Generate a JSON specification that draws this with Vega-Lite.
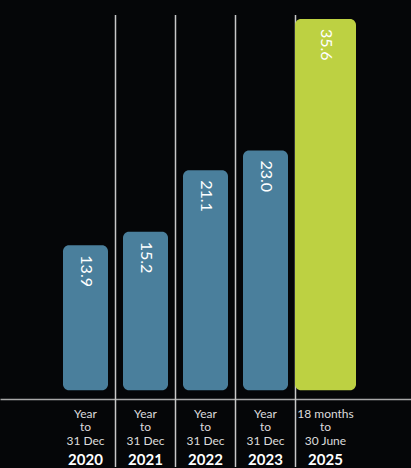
{
  "$schema": "https://vega.github.io/schema/vega-lite/v6.json",
  "width": 411,
  "height": 468,
  "autosize": {"type": "fit", "contains": "padding"},
  "padding": {"top": 14, "left": 0, "right": 0, "bottom": 0},
  "background": "#050608",
  "config": {"view": {"stroke": null}, "font": "Lato"},
  "data": {
    "values": [
      {"year": "2020", "value": 13.9, "label": "13.9", "kind": "year"},
      {"year": "2021", "value": 15.2, "label": "15.2", "kind": "year"},
      {"year": "2022", "value": 21.1, "label": "21.1", "kind": "year"},
      {"year": "2023", "value": 23.0, "label": "23.0", "kind": "year"},
      {"year": "2025", "value": 35.6, "label": "35.6", "kind": "long"}
    ]
  },
  "resolve": {"axis": {"x": "independent"}},
  "layer": [
    {
      "transform": [{"filter": "datum.year !== '2020'"}],
      "mark": {"type": "rule", "color": "#c8c8c8", "strokeWidth": 1.5},
      "encoding": {
        "x": {"field": "year", "type": "nominal", "bandPosition": 0, "axis": null}
      }
    },
    {
      "mark": {"type": "bar", "cornerRadius": 6},
      "encoding": {
        "x": {
          "field": "year",
          "type": "nominal",
          "scale": {"paddingInner": 0, "paddingOuter": 0.925},
          "axis": {
            "orient": "bottom",
            "offset": -68,
            "title": null,
            "grid": false,
            "ticks": false,
            "domain": true,
            "domainColor": "#a8a8a8",
            "domainWidth": 1.5,
            "labelAngle": 0,
            "labelPadding": 9,
            "labelFontSize": 12,
            "labelColor": "#dcdcdc",
            "labelLineHeight": 13.7,
            "labelBaseline": "top",
            "labelOverlap": false,
            "labelFlush": false,
            "labelExpr": "datum.value === '2025' ? ['18 months', 'to', '30 June'] : ['Year', 'to', '31 Dec']"
          }
        },
        "y": {
          "field": "value",
          "type": "quantitative",
          "scale": {"domain": [-7.35, 35.98], "nice": false, "zero": false},
          "axis": null
        },
        "size": {
          "field": "kind",
          "type": "nominal",
          "scale": {"domain": ["year", "long"], "range": [45, 61]},
          "legend": null
        },
        "color": {
          "field": "kind",
          "type": "nominal",
          "scale": {"domain": ["year", "long"], "range": ["#4a7f9c", "#bdd142"]},
          "legend": null
        }
      }
    },
    {
      "mark": {
        "type": "text",
        "angle": 90,
        "align": "left",
        "baseline": "middle",
        "dx": 10,
        "fontSize": 16,
        "color": "#ffffff"
      },
      "encoding": {
        "x": {
          "field": "year",
          "type": "nominal",
          "axis": {
            "orient": "bottom",
            "offset": -68,
            "title": null,
            "grid": false,
            "ticks": false,
            "domain": false,
            "labelAngle": 0,
            "labelPadding": 53,
            "labelFontSize": 15,
            "labelFontWeight": "bold",
            "labelColor": "#ffffff",
            "labelBaseline": "top",
            "labelOverlap": false,
            "labelFlush": false
          }
        },
        "y": {"field": "value", "type": "quantitative"},
        "text": {"field": "label"}
      }
    }
  ]
}
